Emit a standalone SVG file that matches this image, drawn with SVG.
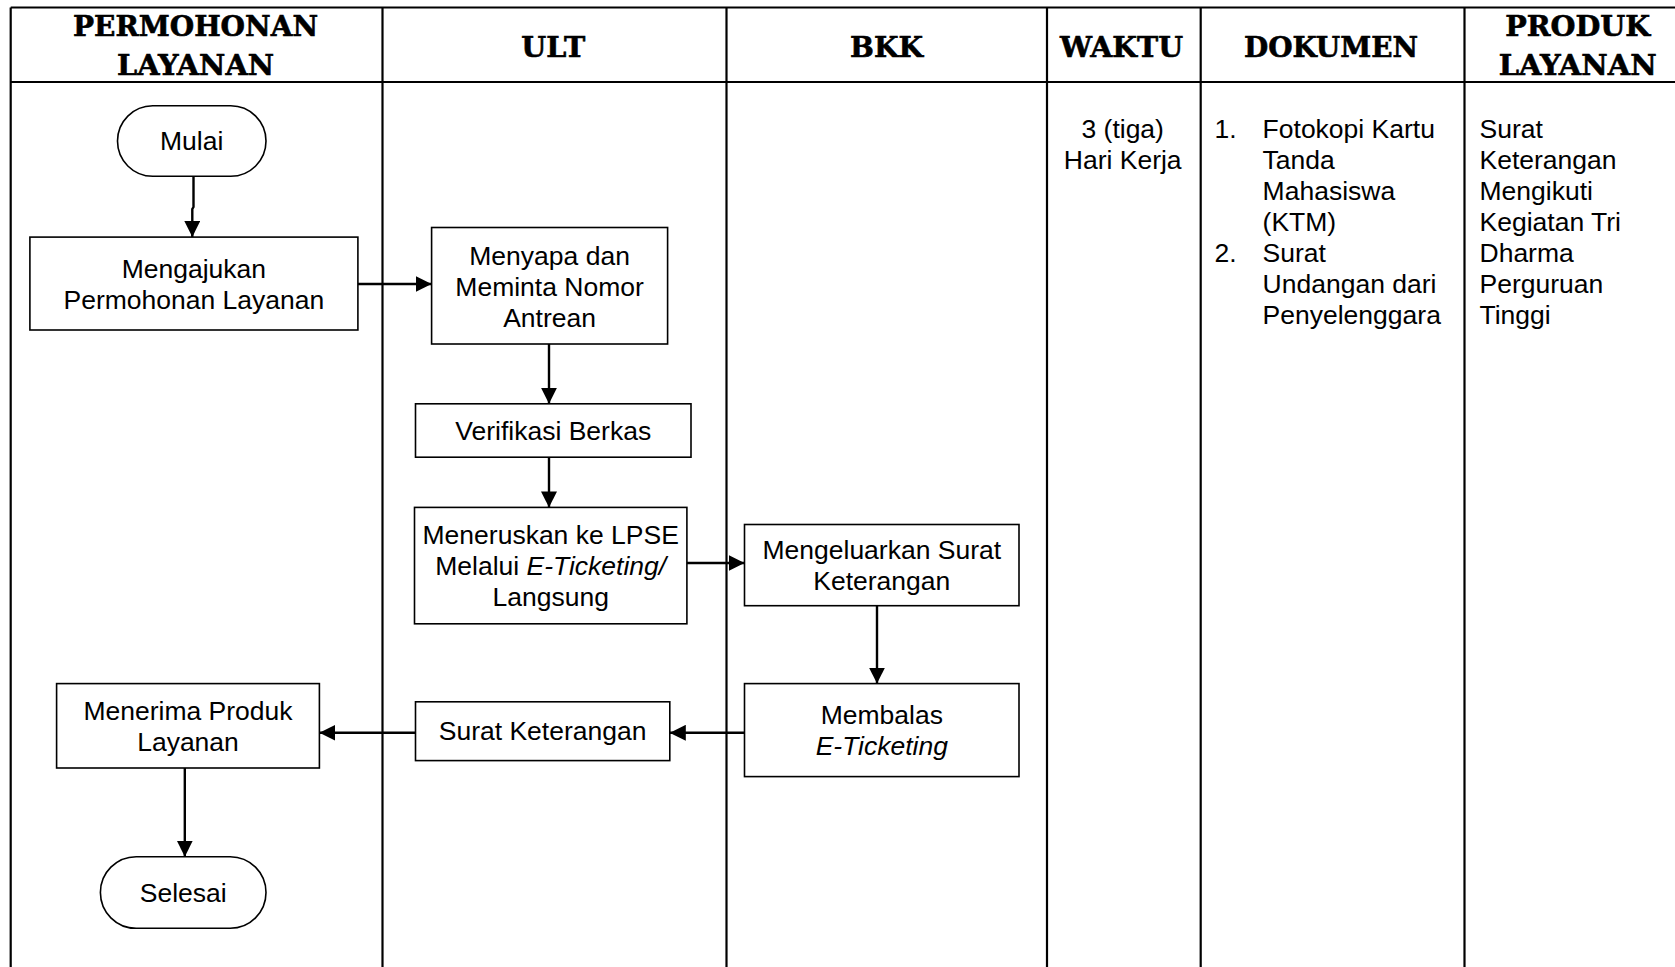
<svg xmlns="http://www.w3.org/2000/svg" width="1675" height="967" viewBox="0 0 1675 967">
<style>
.grid{stroke:#000;stroke-width:2.2;fill:none}
.box{fill:#fff;stroke:#000;stroke-width:1.6}
.hd{font-family:"DejaVu Serif","Liberation Serif",serif;font-weight:bold;font-size:28px;fill:#000;stroke:#000;stroke-width:0.6;text-anchor:middle}
.t{font-family:"Liberation Sans",Arial,sans-serif;font-size:26.5px;fill:#000;text-anchor:middle}
.tl{font-family:"Liberation Sans",Arial,sans-serif;font-size:26.5px;fill:#000;text-anchor:start}
.i{font-style:italic}
.ln{stroke:#000;stroke-width:2.4;fill:none}
</style>
<defs>
<marker id="ah" viewBox="0 0 16 16" refX="16" refY="8" markerWidth="16" markerHeight="16" markerUnits="userSpaceOnUse" orient="auto">
<path d="M0,0 L16,8 L0,16 Z" fill="#000"/>
</marker>
</defs>
<rect width="1675" height="967" fill="#fff"/>
<g id="table">
<line class="grid" x1="10.7" y1="7.5" x2="1675" y2="7.5"/>
<line class="grid" x1="10.7" y1="82" x2="1675" y2="82"/>
<line class="grid" x1="10.7" y1="7.5" x2="10.7" y2="967"/>
<line class="grid" x1="382.5" y1="7.5" x2="382.5" y2="967"/>
<line class="grid" x1="726.5" y1="7.5" x2="726.5" y2="967"/>
<line class="grid" x1="1047" y1="7.5" x2="1047" y2="967"/>
<line class="grid" x1="1200.7" y1="7.5" x2="1200.7" y2="967"/>
<line class="grid" x1="1464.5" y1="7.5" x2="1464.5" y2="967"/>
</g>
<g id="headers">
<text class="hd" x="195.5" y="36.3" textLength="245" lengthAdjust="spacingAndGlyphs">PERMOHONAN</text>
<text class="hd" x="195.5" y="74.8" textLength="157" lengthAdjust="spacingAndGlyphs">LAYANAN</text>
<text class="hd" x="553.3" y="56.6" textLength="64" lengthAdjust="spacingAndGlyphs">ULT</text>
<text class="hd" x="886.6" y="56.6" textLength="73" lengthAdjust="spacingAndGlyphs">BKK</text>
<text class="hd" x="1121.6" y="56.6" textLength="123" lengthAdjust="spacingAndGlyphs">WAKTU</text>
<text class="hd" x="1331" y="56.6" textLength="174" lengthAdjust="spacingAndGlyphs">DOKUMEN</text>
<text class="hd" x="1577.7" y="36.3" textLength="145" lengthAdjust="spacingAndGlyphs">PRODUK</text>
<text class="hd" x="1577.7" y="74.8" textLength="158" lengthAdjust="spacingAndGlyphs">LAYANAN</text>
</g>
<g id="connectors">
<polyline class="ln" points="193.5,177 193.5,207 192.3,209 192.3,237" marker-end="url(#ah)"/>
<line class="ln" x1="358" y1="284" x2="431.6" y2="284" marker-end="url(#ah)"/>
<line class="ln" x1="549" y1="344" x2="549" y2="403.8" marker-end="url(#ah)"/>
<line class="ln" x1="549" y1="457.2" x2="549" y2="507.4" marker-end="url(#ah)"/>
<line class="ln" x1="687" y1="563" x2="744.5" y2="563" marker-end="url(#ah)"/>
<line class="ln" x1="877" y1="605.7" x2="877" y2="683.6" marker-end="url(#ah)"/>
<line class="ln" x1="744.5" y1="732.8" x2="669.8" y2="732.8" marker-end="url(#ah)"/>
<line class="ln" x1="415.5" y1="732.8" x2="319.4" y2="732.8" marker-end="url(#ah)"/>
<line class="ln" x1="184.8" y1="768" x2="184.8" y2="856.7" marker-end="url(#ah)"/>
</g>
<g id="mulai">
<rect class="box" x="117.5" y="105.8" width="148.5" height="70.5" rx="35.25" ry="35.25"/>
<text class="t" x="191.7" y="149.5">Mulai</text>
</g>
<g id="mengajukan">
<rect class="box" x="29.9" y="237.1" width="328" height="92.9"/>
<text class="t" x="193.9" y="277.5">Mengajukan</text>
<text class="t" x="193.9" y="308.5">Permohonan Layanan</text>
</g>
<g id="menyapa">
<rect class="box" x="431.6" y="227.5" width="236" height="116.5"/>
<text class="t" x="549.6" y="264.9">Menyapa dan</text>
<text class="t" x="549.6" y="295.8">Meminta Nomor</text>
<text class="t" x="549.6" y="326.8">Antrean</text>
</g>
<g id="verifikasi">
<rect class="box" x="415.5" y="403.8" width="275.5" height="53.4"/>
<text class="t" x="553.2" y="440.1">Verifikasi Berkas</text>
</g>
<g id="meneruskan">
<rect class="box" x="414.5" y="507.4" width="272.4" height="116.4"/>
<text class="t" x="550.7" y="543.7">Meneruskan ke LPSE</text>
<text class="t" x="550.7" y="574.6">Melalui <tspan class="i">E-Ticketing/</tspan></text>
<text class="t" x="550.7" y="605.6">Langsung</text>
</g>
<g id="mengeluarkan">
<rect class="box" x="744.5" y="524.5" width="274.5" height="81.2"/>
<text class="t" x="881.8" y="558.6">Mengeluarkan Surat</text>
<text class="t" x="881.8" y="589.6">Keterangan</text>
</g>
<g id="membalas">
<rect class="box" x="744.5" y="683.6" width="274.5" height="93"/>
<text class="t" x="881.8" y="724.2">Membalas</text>
<text class="t i" x="881.8" y="755.2">E-Ticketing</text>
</g>
<g id="surat-keterangan">
<rect class="box" x="415.5" y="701.8" width="254.3" height="58.8"/>
<text class="t" x="542.6" y="740.2">Surat Keterangan</text>
</g>
<g id="menerima">
<rect class="box" x="56.6" y="683.6" width="262.8" height="84.4"/>
<text class="t" x="188" y="719.9">Menerima Produk</text>
<text class="t" x="188" y="750.9">Layanan</text>
</g>
<g id="selesai">
<rect class="box" x="100.4" y="856.7" width="165.6" height="71.6" rx="35.8" ry="35.8"/>
<text class="t" x="183.2" y="901.5">Selesai</text>
</g>
<g id="waktu">
<text class="t" x="1122.7" y="137.8">3 (tiga)</text>
<text class="t" x="1122.7" y="168.7">Hari Kerja</text>
</g>
<g id="dokumen">
<text class="tl" x="1214.6" y="137.8">1.</text>
<text class="tl" x="1262.6" y="137.8">Fotokopi Kartu</text>
<text class="tl" x="1262.6" y="168.7">Tanda</text>
<text class="tl" x="1262.6" y="199.7">Mahasiswa</text>
<text class="tl" x="1262.6" y="230.7">(KTM)</text>
<text class="tl" x="1214.6" y="261.7">2.</text>
<text class="tl" x="1262.6" y="261.7">Surat</text>
<text class="tl" x="1262.6" y="292.6">Undangan dari</text>
<text class="tl" x="1262.6" y="323.5">Penyelenggara</text>
</g>
<g id="produk">
<text class="tl" x="1479.5" y="137.8">Surat</text>
<text class="tl" x="1479.5" y="168.7">Keterangan</text>
<text class="tl" x="1479.5" y="199.7">Mengikuti</text>
<text class="tl" x="1479.5" y="230.7">Kegiatan Tri</text>
<text class="tl" x="1479.5" y="261.7">Dharma</text>
<text class="tl" x="1479.5" y="292.6">Perguruan</text>
<text class="tl" x="1479.5" y="323.5">Tinggi</text>
</g>
</svg>
